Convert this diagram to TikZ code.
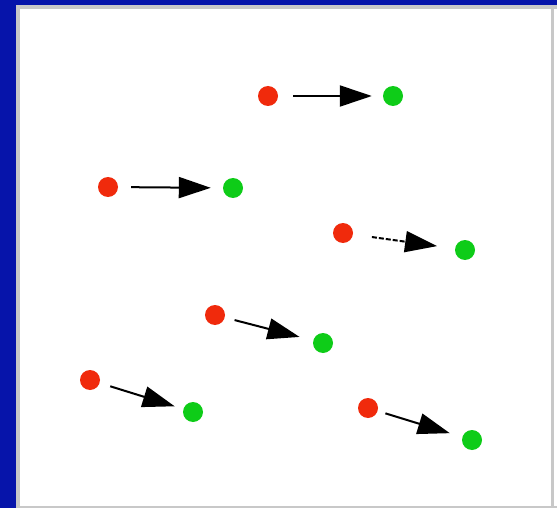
\documentclass[tikz,border=0pt]{standalone}
\usetikzlibrary{arrows.meta}
\definecolor{slideblue}{RGB}{6,20,170}
\definecolor{framegrey}{RGB}{200,200,200}
\definecolor{dotred}{RGB}{240,42,12}
\definecolor{dotgreen}{RGB}{14,204,24}
\tikzset{
  dot/.style={circle, inner sep=0pt, minimum size=20pt},
  src/.style={dot, fill=dotred},
  dst/.style={dot, fill=dotgreen},
  move/.style={line width=2pt, black,
    -{Triangle[length=32pt, width=21pt]},
    shorten <=13pt, shorten >=12pt},
}
\begin{document}
\begin{tikzpicture}[x=1pt, y=-1pt]
  % slide background and white panel
  \fill[slideblue] (0,0) rectangle (557,508);
  \useasboundingbox (0,0) rectangle (557,508);
  \fill[white] (16,5) rectangle (557,508);
  \fill[framegrey] (16,5) rectangle (20,508);
  \fill[framegrey] (16,5) rectangle (557,9);
  \fill[framegrey] (551,5) rectangle (554,508);
  \fill[framegrey] (16,505.5) rectangle (557,508);

  % start points
  \node[src] (r1) at (268,96) {};
  \node[src] (r2) at (108,187) {};
  \node[src] (r3) at (343,233) {};
  \node[src] (r4) at (215,315) {};
  \node[src] (r5) at (90,380) {};
  \node[src] (r6) at (368,408) {};

  % end points
  \node[dst] (g1) at (393,96) {};
  \node[dst] (g2) at (233,188) {};
  \node[dst] (g3) at (465,250) {};
  \node[dst] (g4) at (323,343) {};
  \node[dst] (g5) at (193,412) {};
  \node[dst] (g6) at (472,440) {};

  % displacements
  \draw[move, shorten <=15pt, shorten >=11pt] (r1) -- (g1);
  \draw[move] (r2) -- (g2);
  \draw[move, dash pattern=on 5pt off 2pt, shorten <=19pt, shorten >=18pt] (r3) -- (g3);
  \draw[move, shorten <=10pt, shorten >=14pt] (r4) -- (g4);
  \draw[move, shorten <=11pt, shorten >=9pt] (r5) -- (g5);
  \draw[move, shorten <=8pt, shorten >=13pt] (r6) -- (g6);
\end{tikzpicture}
\end{document}
